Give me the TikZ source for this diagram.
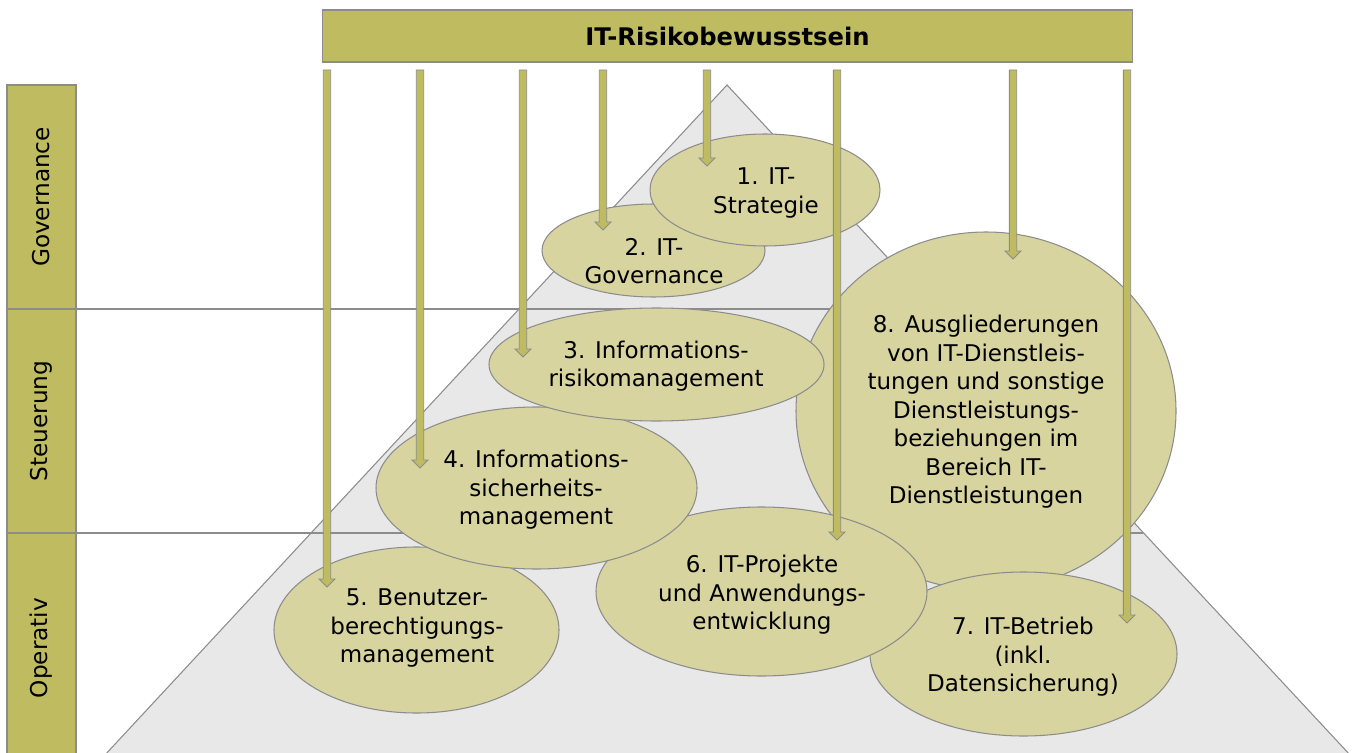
\documentclass[tikz,border=0pt]{standalone}
\usepackage{fontspec}
\setmainfont{DejaVu Sans}
\definecolor{olivebar}{RGB}{191,187,96}
\definecolor{olivelight}{RGB}{215,212,160}
\definecolor{edgegray}{RGB}{140,140,140}
\definecolor{pyramidgray}{RGB}{232,232,232}
\tikzset{
  barbox/.style={draw=edgegray, fill=olivebar, line width=0.6pt, inner sep=0pt},
  topic/.style={draw=edgegray, fill=olivelight, line width=0.6pt},
  topictext/.style={align=center, inner sep=0pt, font=\fontsize{13.1}{16.2}\selectfont},
  riskarrow/.style={draw=edgegray, fill=olivebar, line width=0.5pt},
  layerline/.style={draw=edgegray, line width=0.6pt}
}
\begin{document}
\begin{tikzpicture}[x=0.02cm, y=-0.02cm]
      \useasboundingbox (0,0) rectangle (1355,753);
      \clip (0,0) rectangle (1355,753);
      % pyramid
      \draw[fill=pyramidgray, draw=edgegray, line width=0.6pt]
        (727,85) -- (1351,756) -- (104,756) -- cycle;
      % layers
      \node[barbox, rotate=90, minimum width=4.48cm, minimum height=1.38cm,
        font=\fontsize{13.2}{16}\selectfont] (gov) at (41.5,197) {Governance};
      \node[barbox, rotate=90, minimum width=4.48cm, minimum height=1.38cm,
        font=\fontsize{13.2}{16}\selectfont] (steu) at (41.5,421) {Steuerung};
      \node[barbox, rotate=90, minimum width=4.6cm, minimum height=1.38cm,
        font=\fontsize{13.2}{16}\selectfont] (oper) at (41.5,648) {Operativ};
      \draw[layerline] (76,309) -- (935,309);
      \draw[layerline] (76,533) -- (1143,533);
      % topics
      \draw[topic] (986,411) ellipse (190 and 179);
      \draw[topic] (1023.5,654) ellipse (153.5 and 82);
      \draw[topic] (761.5,591.5) ellipse (165.5 and 84.5);
      \draw[topic] (416.5,630) ellipse (142.5 and 83);
      \draw[topic] (536.5,488) ellipse (160.5 and 81);
      \draw[topic] (656.5,364.5) ellipse (167.5 and 56.5);
      \draw[topic] (653.5,250.5) ellipse (111.5 and 46.5);
      \draw[topic] (765,190) ellipse (115 and 56);
      \node[topictext] (strategie) at (766,193) {1. IT-\\Strategie};
      \node[topictext] (governance) at (654,261) {2. IT-\\Governance};
      \node[topictext] (irm) at (656,366) {3. Informations-\\risikomanagement};
      \node[topictext] (ism) at (536,490) {4. Informations-\\sicherheits-\\management};
      \node[topictext] (bbm) at (417,628) {5. Benutzer-\\berechtigungs-\\management};
      \node[topictext] (projekte) at (762,595) {6. IT-Projekte\\und Anwendungs-\\entwicklung};
      \node[topictext] (betrieb) at (1023,657) {7. IT-Betrieb\\(inkl.\\Datensicherung)};
      \node[topictext] (auslagerung) at (986,412) {8. Ausgliederungen\\von IT-Dienstleis-\\tungen und sonstige\\Dienstleistungs-\\beziehungen im\\Bereich IT-\\Dienstleistungen};
      % awareness bar
      \node[barbox, minimum width=16.22cm, minimum height=1.04cm,
        font=\fontsize{13.8}{16}\selectfont\bfseries] (awareness) at (727.5,36) {IT-Risikobewusstsein};
      \foreach \x/\tip in {327/587, 420/468, 523/357, 603/230, 707/166, 837/540, 1013/259, 1127/623}
        \draw[riskarrow] (\x-3.7,70) -- (\x+3.7,70) -- (\x+3.7,\tip-8) -- (\x+8,\tip-8)
          -- (\x,\tip) -- (\x-8,\tip-8) -- (\x-3.7,\tip-8) -- cycle;
    \end{tikzpicture}
\end{document}
